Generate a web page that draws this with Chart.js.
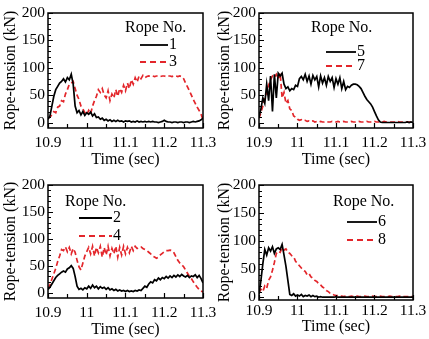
<!DOCTYPE html>
<html>
<head>
<meta charset="utf-8">
<script src="https://cdn.jsdelivr.net/npm/chart.js@4.4.1/dist/chart.umd.min.js"></script>
<style>
  html, body { margin: 0; padding: 0; background: #fff; }
  #wrap { position: relative; width: 429px; height: 339px; overflow: hidden; background: #fff; }
  canvas { position: absolute; left: 0; top: 0; }
</style>
</head>
<body>
<div id="wrap">
  <canvas id="p1" width="429" height="339"></canvas>
  <canvas id="p2" width="429" height="339"></canvas>
  <canvas id="p3" width="429" height="339"></canvas>
  <canvas id="p4" width="429" height="339"></canvas>
</div>
<script>
// time (sec)
const time = [
  10.9,10.905,10.91,10.915,10.92,10.925,10.93,10.935,10.94,10.945,
  10.95,10.955,10.96,10.965,10.97,10.975,10.98,10.985,10.99,10.995,
  11,11.005,11.01,11.015,11.02,11.025,11.03,11.035,11.04,11.045,
  11.05,11.055,11.06,11.065,11.07,11.075,11.08,11.085,11.09,11.095,
  11.1,11.105,11.11,11.115,11.12,11.125,11.13,11.135,11.14,11.145,
  11.15,11.155,11.16,11.165,11.17,11.175,11.18,11.185,11.19,11.195,
  11.2,11.205,11.21,11.215,11.22,11.225,11.23,11.235,11.24,11.245,
  11.25,11.255,11.26,11.265,11.27,11.275,11.28,11.285,11.29,11.295,
  11.3
];

// rope tension (kN)
const rope1 = [
  6,12,30,48,60,66,72,75,80,74,
  82,78,88,70,30,18,22,14,20,13,
  18,15,19,12,16,9,10,6,8,4,
  6,3,5,2,4,2,4,2,3,1,
  3,2,3,1,2,1,3,1,2,1,
  2,1,2,1,2,1,1,0,1,2,
  4,2,1,1,0,1,1,0,1,1,
  0,1,1,0,1,2,1,2,3,5,
  8
];
const rope3 = [
  8,10,14,20,18,28,30,40,38,52,
  60,70,72,75,62,50,42,30,25,18,
  14,22,16,30,40,48,60,55,62,50,
  45,58,40,52,45,60,48,62,55,68,
  58,72,62,78,70,82,74,85,80,86,
  82,84,85,84,85,84,85,85,84,85,
  85,84,85,85,84,85,85,84,85,84,
  80,72,65,58,50,42,35,28,22,15,
  5
];
const rope5 = [
  10,25,45,35,70,40,85,20,88,45,
  90,85,90,70,62,65,58,62,60,68,
  66,80,84,78,88,75,85,70,86,78,
  84,65,85,72,82,68,84,75,82,64,
  80,70,82,62,75,60,66,64,68,70,
  70,69,66,62,55,48,42,38,34,28,
  20,12,5,1,0,0,0,0,0,0,
  0,0,0,0,0,0,0,1,0,1,
  0
];
const rope7 = [
  8,18,30,45,55,68,78,85,82,88,
  80,90,45,55,35,40,25,22,12,10,
  6,4,5,3,4,2,3,2,3,1,
  2,1,2,1,1,2,1,1,2,1,
  1,2,1,1,2,1,1,1,2,1,
  1,1,2,1,1,1,2,1,1,1,
  2,1,1,1,1,2,1,1,1,1,
  1,1,2,1,1,1,1,1,1,1,
  1
];
const rope2 = [
  6,10,16,22,28,32,35,38,40,38,
  44,46,50,45,30,12,6,8,5,9,
  7,12,8,14,9,12,7,11,8,10,
  6,9,5,7,4,6,3,5,3,4,
  2,4,2,3,2,4,3,5,4,8,
  12,10,16,20,18,24,22,27,24,28,
  26,30,27,31,28,32,29,33,30,34,
  31,29,32,28,31,30,33,28,32,26,
  18
];
const rope4 = [
  8,15,25,35,45,58,68,80,78,85,
  76,84,72,82,75,60,48,42,55,68,
  76,84,72,86,68,84,74,86,66,84,
  70,86,68,82,72,86,66,84,70,86,
  72,84,74,86,78,86,82,84,85,82,
  80,78,75,72,68,66,64,66,70,73,
  76,78,78,79,78,74,67,60,55,52,
  48,42,36,30,26,20,15,10,6,3,
  1
];
const rope6 = [
  5,30,60,85,75,88,82,90,78,86,
  88,85,94,75,55,30,5,3,6,2,
  4,2,5,1,3,2,4,1,3,1,
  2,0,1,0,0,0,0,0,0,0,
  1,0,0,0,0,0,0,0,0,0,
  0,0,0,0,0,0,0,0,0,0,
  0,0,0,0,0,0,0,0,0,0,
  0,0,0,0,0,0,0,0,0,0,
  0
];
const rope8 = [
  8,14,10,20,16,30,36,48,62,78,
  82,80,88,84,86,80,78,74,72,64,
  60,56,52,48,46,40,42,36,34,30,
  28,24,22,18,16,12,10,7,6,4,
  3,3,2,2,1,2,1,1,2,1,
  1,2,1,1,1,2,1,1,1,2,
  1,1,1,2,1,1,1,1,2,1,
  1,1,1,2,1,1,1,1,1,1,
  1
];

const xTicks = [10.9,10.95,11,11.05,11.1,11.15,11.2,11.25,11.3];
const xLabels = [10.9,11,11.1,11.2,11.3];
const yTicks = [0,10,20,30,40,50,60,70,80,90,100,110,120,130,140,150,160,170,180,190,200];
const yLabels = [0,50,100,150,200];
const xTitle = 'Time (sec)';
const yTitle = 'Rope-tension (kN)';
const legendTitle = 'Rope No.';

const SERIF = "'Liberation Serif', 'DejaVu Serif', serif";
const RED = '#e3262b';

function isIn(list, v) {
  return list.some(l => Math.abs(l - v) < 1e-9);
}

// box round the plot + inward tick marks
const framePlugin = {
  id: 'frame',
  afterDatasetsDraw(chart) {
    const { ctx, chartArea: a, scales } = chart;
    ctx.save();
    ctx.strokeStyle = '#000';
    ctx.lineWidth = 1.5;
    ctx.strokeRect(a.left, a.top, a.right - a.left, a.bottom - a.top);
    ctx.lineWidth = 1.2;
    ctx.beginPath();
    scales.x.ticks.forEach(t => {
      const px = Math.round(scales.x.getPixelForValue(t.value)) + 0.5;
      const len = isIn(xLabels, t.value) ? 5 : 4;
      ctx.moveTo(px, a.bottom);
      ctx.lineTo(px, a.bottom - len);
    });
    scales.y.ticks.forEach(t => {
      const py = Math.round(scales.y.getPixelForValue(t.value)) + 0.5;
      const len = isIn(yLabels, t.value) ? 5 : 3;
      ctx.moveTo(a.left, py);
      ctx.lineTo(a.left + len, py);
    });
    ctx.stroke();
    ctx.restore();
  }
};

// "Rope No." legend inside the plot
const legendPlugin = {
  id: 'ropeLegend',
  afterDraw(chart, args, opts) {
    const { ctx } = chart;
    ctx.save();
    ctx.fillStyle = '#000';
    ctx.font = '16px ' + SERIF;
    ctx.textBaseline = 'middle';
    ctx.textAlign = 'left';
    ctx.fillText(legendTitle, opts.x, opts.y);
    chart.data.datasets.forEach((ds, i) => {
      const y = opts.rows[i];
      ctx.strokeStyle = ds.borderColor;
      ctx.lineWidth = 1.8;
      ctx.setLineDash(ds.borderDash ? [6, 4] : []);
      ctx.beginPath();
      ctx.moveTo(opts.lx0, y);
      ctx.lineTo(opts.lx1, y);
      ctx.stroke();
      ctx.setLineDash([]);
      ctx.fillText(ds.label, opts.lx1 + 1, y);
    });
    ctx.restore();
  }
};

function makePanel(id, blackLabel, blackData, redLabel, redData, L) {
  const toXY = arr => arr.map((v, i) => ({ x: time[i], y: v }));
  return new Chart(document.getElementById(id), {
    type: 'line',
    data: {
      datasets: [
        { label: blackLabel, data: toXY(blackData), borderColor: '#000', borderWidth: 1.7,
          pointRadius: 0, tension: 0, fill: false },
        { label: redLabel, data: toXY(redData), borderColor: RED, borderWidth: 1.7,
          borderDash: [5, 3], pointRadius: 0, tension: 0, fill: false }
      ]
    },
    options: {
      responsive: false,
      animation: false,
      events: [],
      layout: { padding: L.pad },
      plugins: {
        legend: { display: false },
        tooltip: { enabled: false },
        ropeLegend: L.legend
      },
      scales: {
        x: {
          type: 'linear',
          min: 10.9,
          max: 11.3,
          afterBuildTicks: s => { s.ticks = xTicks.map(v => ({ value: v })); },
          afterFit: s => { s.height = L.xh; s.paddingLeft = 0; s.paddingRight = 0; },
          grid: { display: false, drawTicks: false },
          border: { display: false },
          ticks: {
            autoSkip: false, maxRotation: 0, minRotation: 0, padding: L.xlp, color: '#000',
            font: { family: SERIF, size: 15.5 },
            callback: v => isIn(xLabels, v) ? String(Math.round(v * 10) / 10) : ''
          },
          title: { display: true, text: xTitle, color: '#000',
            font: { family: SERIF, size: 16, lineHeight: 1 }, padding: { top: 0, bottom: L.xtp } }
        },
        y: {
          type: 'linear',
          min: L.ymin,
          max: 200,
          afterBuildTicks: s => { s.ticks = yTicks.map(v => ({ value: v })); },
          afterFit: s => { s.width = L.yw; s.paddingTop = 0; s.paddingBottom = 0; },
          grid: { display: false, drawTicks: false },
          border: { display: false },
          ticks: {
            autoSkip: false, padding: 3, color: '#000',
            font: { family: SERIF, size: 15.5 },
            callback: v => isIn(yLabels, v) ? String(v) : ''
          },
          title: { display: true, text: yTitle, color: '#000',
            font: { family: SERIF, size: 16 }, padding: { top: 1, bottom: 0 } }
        }
      }
    },
    plugins: [framePlugin, legendPlugin]
  });
}

makePanel('p1', '1', rope1, '3', rope3, {
  pad: { left: 0, top: 13, right: 226, bottom: 169 }, yw: 48, xh: 42, xlp: 6, xtp: 2, ymin: -10,
  legend: { x: 125, y: 28, lx0: 140, lx1: 168, rows: [45, 62] }
});
makePanel('p2', '5', rope5, '7', rope7, {
  pad: { left: 214, top: 13, right: 16, bottom: 169 }, yw: 45, xh: 42, xlp: 6, xtp: 2, ymin: -10,
  legend: { x: 311, y: 28, lx0: 326, lx1: 356, rows: [52, 66] }
});
makePanel('p3', '2', rope2, '4', rope4, {
  pad: { left: 0, top: 185, right: 226, bottom: 0 }, yw: 48, xh: 41, xlp: 6, xtp: 1, ymin: -10,
  legend: { x: 65, y: 202, lx0: 79, lx1: 112, rows: [218, 236] }
});
makePanel('p4', '6', rope6, '8', rope8, {
  pad: { left: 214, top: 185, right: 16, bottom: 0 }, yw: 45, xh: 39, xlp: 2, xtp: 4, ymin: -5,
  legend: { x: 333, y: 202, lx0: 347, lx1: 377, rows: [222, 240] }
});
</script>
</body>
</html>
